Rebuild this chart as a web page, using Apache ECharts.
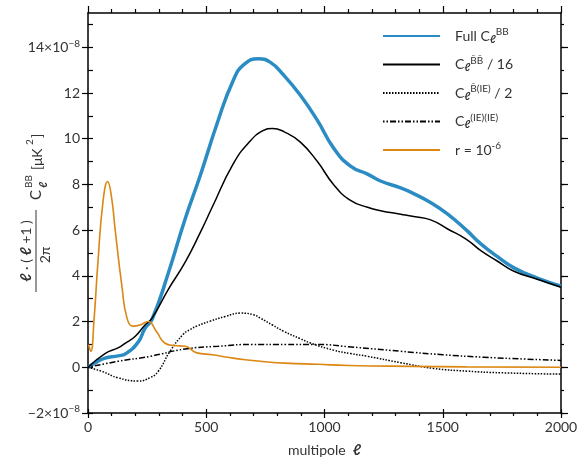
<!DOCTYPE html>
<html>
<head>
<meta charset="utf-8">
<script src="https://cdn.jsdelivr.net/npm/echarts@6/dist/echarts.min.js"></script>
<style>
  html, body { margin: 0; padding: 0; background: #fff; }
  #main { width: 584px; height: 467px; }
</style>
</head>
<body>
<div id="main"></div>
<script>
// multipole values and curves (units of 1e-8 uK^2)
var ellFull = [0, 30, 72, 127, 160, 212, 241, 271, 339, 411, 475, 547, 614, 660, 720, 770, 826, 898, 970, 1038, 1110, 1182, 1237, 1322, 1377, 1450, 1521, 1600, 1661, 1730, 1801, 1900, 2000];
var fullBB = [0, 0.2, 0.4, 0.5, 0.6, 1.1, 1.7, 2.1, 4.1, 6.5, 8.4, 10.7, 12.55, 13.25, 13.5, 13.35, 12.8, 11.9, 10.8, 9.6, 8.8, 8.45, 8.15, 7.85, 7.6, 7.2, 6.7, 6.0, 5.4, 4.85, 4.35, 3.9, 3.55];

var ellTilde = [0, 72, 127, 157, 199, 241, 271, 339, 411, 475, 525, 614, 686, 740, 780, 830, 898, 970, 1038, 1110, 1182, 1237, 1322, 1377, 1449, 1521, 1600, 1661, 1730, 1801, 1900, 2000];
var tildeBB = [0, 0.6, 0.85, 1.05, 1.35, 1.85, 2.15, 3.4, 4.6, 5.9, 7.0, 8.9, 9.9, 10.35, 10.45, 10.3, 9.85, 9.0, 8.0, 7.3, 7.0, 6.85, 6.7, 6.6, 6.45, 6.05, 5.6, 5.1, 4.65, 4.2, 3.85, 3.5];

var ellCross = [0, 59, 127, 212, 263, 297, 347, 403, 430, 460, 517, 580, 644, 700, 729, 780, 826, 898, 941, 1038, 1110, 1182, 1322, 1462, 1605, 1745, 2000];
var crossBIE = [0, -0.18, -0.46, -0.6, -0.45, -0.18, 0.7, 1.45, 1.64, 1.8, 2.02, 2.22, 2.37, 2.3, 2.15, 1.85, 1.58, 1.25, 1.06, 0.75, 0.6, 0.48, 0.2, -0.05, -0.17, -0.24, -0.3];

var ellIE = [0, 127, 263, 411, 551, 695, 835, 970, 1100, 1322, 1500, 1674, 1850, 2000];
var ieIE = [0, 0.26, 0.48, 0.8, 0.92, 1.0, 1.0, 1.0, 0.9, 0.7, 0.55, 0.44, 0.36, 0.3];

var ellR = [2, 12, 25, 42, 64, 83, 100, 114, 144, 165, 191, 220, 254, 290, 326, 365, 411, 460, 525, 589, 665, 750, 835, 970, 1100, 1364, 1600, 2000];
var rSig = [1.0, 0.7, 2.0, 4.6, 7.3, 8.13, 7.4, 6.1, 3.5, 2.15, 1.8, 1.85, 2.0, 1.55, 1.05, 0.95, 0.92, 0.63, 0.55, 0.44, 0.33, 0.24, 0.18, 0.13, 0.08, 0.04, 0.02, 0.0];

var yMajor = [-2, 0, 2, 4, 6, 8, 10, 12, 14];
var yMinor = [-2, -1, 0, 1, 2, 3, 4, 5, 6, 7, 8, 9, 10, 11, 12, 13, 14, 15];

function zip(a, b) {
  var out = [];
  for (var i = 0; i < a.length; i++) out.push([a[i], b[i]]);
  return out;
}

var FONT = 'Lato, "DejaVu Sans", sans-serif';
var TXT = '#333';

var chart = echarts.init(document.getElementById('main'), null, { renderer: 'canvas' });

var supSub = {
  l: { fontSize: 11, fontStyle: 'italic', fontWeight: 'bold', fontFamily: FONT, color: TXT, padding: [6, 0, 0, 0], lineHeight: 20 },
  u: { fontSize: 10, fontFamily: FONT, color: TXT, padding: [0, 0, 8, 0], lineHeight: 20 },
  n: { fontSize: 14, fontFamily: FONT, color: TXT, lineHeight: 20 }
};

var legendText = {
  full: '{n|Full C}{l|ℓ}{u|BB}',
  tilde: '{n|C}{l|ℓ}{u|B̃B̃}{n| / 16}',
  cross: '{n|C}{l|ℓ}{u|B̃(IE)}{n| / 2}',
  ie: '{n|C}{l|ℓ}{u|(IE)(IE)}',
  r: '{n|r = 10}{u|-6}'
};

function tickAxis(opt) {
  return Object.assign({
    type: 'value', gridIndex: 0,
    axisLabel: { show: false },
    splitLine: { show: false },
    axisLine: { show: false, onZero: false, lineStyle: { color: '#000', width: 1.5 } },
    axisTick: { show: true, lineStyle: { color: '#000', width: 1.2 } }
  }, opt);
}

var frameLine = { show: true, onZero: false, lineStyle: { color: '#000', width: 1.5 } };

var option = {
  backgroundColor: '#fff',
  animation: false,
  grid: { left: 88, right: 23, top: 13, bottom: 54 },
  legend: {
    orient: 'vertical',
    left: 377,
    top: 22,
    itemWidth: 57,
    itemHeight: 14,
    itemGap: 10.5,
    data: ['full', 'tilde', 'cross', 'ie', 'r'],
    itemStyle: { opacity: 0 },
    formatter: function (name) { return legendText[name]; },
    textStyle: { fontFamily: FONT, color: TXT, fontSize: 14, padding: [0, 0, 0, 10], rich: supSub }
  },
  xAxis: [
    tickAxis({
      position: 'bottom', min: 0, max: 2000, interval: 500,
      axisLine: frameLine,
      axisTick: { show: true, inside: false, length: 5, lineStyle: { color: '#000', width: 1.2 } },
      minorTick: { show: true, splitNumber: 5, length: 3, lineStyle: { color: '#000', width: 1.2 } },
      axisLabel: { show: true, margin: 7, fontFamily: FONT, fontSize: 14, color: TXT, formatter: function (v) { return String(v); } },
      name: '{m|multipole  }{l|ℓ}',
      nameLocation: 'middle',
      nameGap: 30,
      nameTextStyle: {
        rich: {
          m: { fontFamily: FONT, fontSize: 14, color: TXT },
          l: { fontFamily: FONT, fontSize: 15, color: TXT, fontStyle: 'italic', fontWeight: 'bold' }
        }
      }
    }),
    tickAxis({
      position: 'bottom', min: 0, max: 2000, interval: 500,
      axisTick: { show: true, inside: true, length: 4, lineStyle: { color: '#000', width: 1.2 } }
    }),
    tickAxis({
      position: 'top', min: 0, max: 2000, interval: 500,
      axisLine: frameLine,
      axisTick: { show: true, inside: false, length: 7, lineStyle: { color: '#000', width: 1.2 } },
      minorTick: { show: true, splitNumber: 5, length: 4, lineStyle: { color: '#000', width: 1.2 } }
    })
  ],
  yAxis: [
    tickAxis({
      position: 'left', min: -2, max: 15.5,
      axisLine: frameLine,
      axisTick: { show: true, inside: false, length: 6, customValues: yMajor, lineStyle: { color: '#000', width: 1.2 } },
      axisLabel: {
        show: true, margin: 8, fontFamily: FONT, fontSize: 14, color: TXT,
        customValues: yMajor,
        formatter: function (v) {
          if (v === 14) return '{n|14×10}{e|−8}';
          if (v === -2) return '{n|−2×10}{e|−8}';
          return '{n|' + v + '}';
        },
        rich: {
          n: { fontFamily: FONT, fontSize: 14, color: TXT, lineHeight: 20 },
          e: { fontFamily: FONT, fontSize: 10, color: TXT, padding: [0, 0, 8, 0], lineHeight: 20 }
        }
      }
    }),
    tickAxis({
      position: 'left', min: -2, max: 15.5,
      axisTick: { show: true, inside: true, length: 5, customValues: yMinor, lineStyle: { color: '#000', width: 1.2 } }
    }),
    tickAxis({
      position: 'right', min: -2, max: 15.5,
      axisLine: frameLine,
      axisTick: { show: true, inside: false, length: 7, customValues: yMajor, lineStyle: { color: '#000', width: 1.2 } }
    }),
    tickAxis({
      position: 'right', min: -2, max: 15.5,
      axisTick: { show: true, inside: false, length: 3, customValues: yMinor, lineStyle: { color: '#000', width: 1.2 } }
    })
  ],
  graphic: [{
    type: 'group',
    x: 36, y: 292,
    rotation: Math.PI / 2,
    children: [
      { type: 'line', shape: { x1: 0, y1: 0, x2: 82, y2: 0 }, style: { stroke: TXT, lineWidth: 1 } },
      {
        type: 'text', x: 41, y: -2,
        style: {
          text: '{l|ℓ}{n| · ( }{l|ℓ}{n| +1 )}', align: 'center', verticalAlign: 'bottom',
          rich: {
            l: { fontFamily: FONT, fontSize: 15, fontStyle: 'italic', fontWeight: 'bold', fill: TXT },
            n: { fontFamily: FONT, fontSize: 14, fill: TXT }
          }
        }
      },
      { type: 'text', x: 37, y: 2, style: { text: '2π', fontFamily: FONT, fontSize: 14, fill: TXT, align: 'center', verticalAlign: 'top' } },
      { type: 'text', x: 92, y: 0, style: { text: 'C', fontFamily: FONT, fontSize: 15, fill: TXT, align: 'left', verticalAlign: 'middle' } },
      { type: 'text', x: 104, y: -7, style: { text: 'BB', fontFamily: FONT, fontSize: 10, fill: TXT, align: 'left', verticalAlign: 'middle' } },
      { type: 'text', x: 104, y: 7, style: { text: 'ℓ', fontFamily: FONT, fontSize: 11, fontStyle: 'italic', fontWeight: 'bold', fill: TXT, align: 'left', verticalAlign: 'middle' } },
      { type: 'text', x: 122, y: 1, style: { text: '[μK', fontFamily: FONT, fontSize: 14, fill: TXT, align: 'left', verticalAlign: 'middle' } },
      { type: 'text', x: 147, y: -6, style: { text: '2', fontFamily: FONT, fontSize: 10, fill: TXT, align: 'left', verticalAlign: 'middle' } },
      { type: 'text', x: 154, y: 1, style: { text: ']', fontFamily: FONT, fontSize: 14, fill: TXT, align: 'left', verticalAlign: 'middle' } }
    ]
  }],
  series: [
    {
      name: 'full', type: 'line', data: zip(ellFull, fullBB), smooth: 0.5, symbol: 'none', z: 3,
      lineStyle: { color: '#2b8cc4', width: 3.5 }, itemStyle: { color: '#2b8cc4' }
    },
    {
      name: 'tilde', type: 'line', data: zip(ellTilde, tildeBB), smooth: 0.5, symbol: 'none', z: 4,
      lineStyle: { color: '#000', width: 1.5 }, itemStyle: { color: '#000' }
    },
    {
      name: 'cross', type: 'line', data: zip(ellCross, crossBIE), smooth: 0.5, symbol: 'none', z: 4,
      lineStyle: { color: '#000', width: 1.5, type: [1.5, 1.5] }, itemStyle: { color: '#000' }
    },
    {
      name: 'ie', type: 'line', data: zip(ellIE, ieIE), smooth: 0.5, symbol: 'none', z: 4,
      lineStyle: { color: '#000', width: 1.5, type: [1.5, 2, 1.5, 2, 6, 2] }, itemStyle: { color: '#000' }
    },
    {
      name: 'r', type: 'line', data: zip(ellR, rSig), smooth: 0.5, symbol: 'none', z: 5,
      lineStyle: { color: '#dc8712', width: 1.6 }, itemStyle: { color: '#dc8712' }
    }
  ]
};

chart.setOption(option);
</script>
</body>
</html>
